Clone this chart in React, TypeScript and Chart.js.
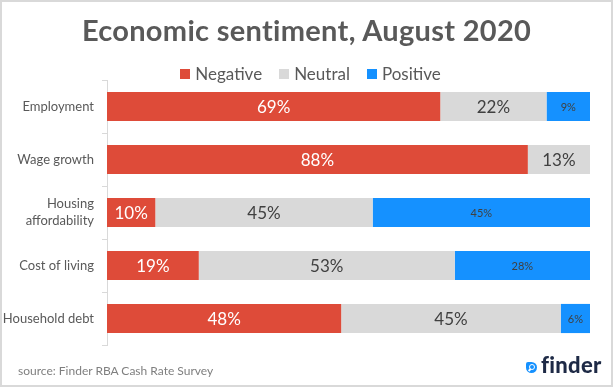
import React, { useEffect, useRef } from 'react';
import { Chart, registerables } from 'chart.js';

Chart.register(...registerables);

const categories: (string | string[])[] = [
  'Employment',
  'Wage growth',
  ['Housing', 'affordability'],
  'Cost of living',
  'Household debt',
];
const seriesNames = ['Negative', 'Neutral', 'Positive'];
const negative = [69, 88, 10, 19, 48];
const neutral = [22, 13, 45, 53, 45];
const positive = [9, 0, 45, 28, 6];
const seriesColors = ['#DE4B39', '#D9D9D9', '#1591FF'];

const rawSeries = [negative, neutral, positive];
const totals = categories.map((_, i) => negative[i] + neutral[i] + positive[i]);
const share = (arr: number[]) => arr.map((v, i) => (v / totals[i]) * 100);

const labelStyles = [
  { font: '17px Lato', color: '#FFFFFF' },
  { font: '17px Lato', color: '#404040' },
  { font: '11px Lato', color: '#404040' },
];

const barLabels = {
  id: 'barLabels',
  afterDatasetsDraw(chart: any) {
    const ctx = chart.ctx;
    chart.data.datasets.forEach((_ds: any, d: number) => {
      const meta = chart.getDatasetMeta(d);
      const raw = rawSeries[d];
      meta.data.forEach((el: any, i: number) => {
        if (!raw[i]) return;
        const { x, y, base } = el.getProps(['x', 'y', 'base'], true);
        ctx.save();
        ctx.font = labelStyles[d].font;
        ctx.fillStyle = labelStyles[d].color;
        ctx.textAlign = 'center';
        ctx.textBaseline = 'middle';
        ctx.fillText(raw[i] + '%', (x + base) / 2, y + 1);
        ctx.restore();
      });
    });
  },
};

export default function App() {
  const canvasRef = useRef<HTMLCanvasElement | null>(null);

  useEffect(() => {
    if (!canvasRef.current) return;
    const chart = new Chart(canvasRef.current, {
      type: 'bar',
      data: {
        labels: categories as any,
        datasets: seriesNames.map((name, d) => ({
          label: name,
          data: share(rawSeries[d]),
          backgroundColor: seriesColors[d],
          borderWidth: 0,
          categoryPercentage: 1,
          barPercentage: 0.55,
        })),
      },
      options: {
        indexAxis: 'y',
        animation: false,
        responsive: false,
        devicePixelRatio: 1,
        layout: { padding: { top: 80, right: 23, bottom: 42, left: 0 } },
        plugins: {
          legend: { display: false },
          title: { display: false },
          tooltip: { enabled: false },
        },
        scales: {
          x: { stacked: true, display: false, min: 0, max: 100 },
          y: {
            stacked: true,
            grid: {
              display: true,
              drawOnChartArea: false,
              drawTicks: true,
              tickLength: 5,
              color: '#D9D9D9',
              offset: true,
            },
            border: { display: true, color: '#D9D9D9' },
            ticks: {
              color: '#595959',
              font: { family: 'Lato', size: 13, lineHeight: 1.3 },
              padding: 8,
            },
            afterFit(scale: any) {
              scale.width = 107;
            },
          },
        },
      },
      plugins: [barLabels],
    });
    return () => chart.destroy();
  }, []);

  const legendItem = (name: string, color: string, last: boolean) => (
    <div key={name} style={{ display: 'flex', alignItems: 'center', marginRight: last ? 0 : 17 }}>
      <span style={{ width: 10, height: 10, background: color, marginRight: 5, display: 'inline-block' }} />
      <span>{name}</span>
    </div>
  );

  return (
    <div
      style={{
        position: 'fixed',
        left: 0,
        top: 0,
        width: 613,
        height: 387,
        background: '#FFFFFF',
        fontFamily: 'Lato, sans-serif',
        overflow: 'hidden',
      }}
    >
      <canvas ref={canvasRef} width={613} height={387} style={{ position: 'absolute', left: 0, top: 0, display: 'block' }} />
      <div
        style={{
          position: 'absolute',
          left: 0,
          top: 15,
          width: 613,
          textAlign: 'center',
          fontSize: 29,
          fontWeight: 700,
          lineHeight: '29px',
          letterSpacing: 0.3,
          color: '#595959',
        }}
      >
        Economic sentiment, August 2020
      </div>
      <div
        style={{
          position: 'absolute',
          left: 4,
          top: 63,
          width: 613,
          display: 'flex',
          justifyContent: 'center',
          fontSize: 17,
          lineHeight: '22px',
          color: '#595959',
        }}
      >
        {seriesNames.map((n, i) => legendItem(n, seriesColors[i], i === seriesNames.length - 1))}
      </div>
      <div
        style={{
          position: 'absolute',
          left: 18,
          top: 363,
          fontSize: 12,
          lineHeight: '16px',
          color: '#7F7F7F',
        }}
      >
        source: Finder RBA Cash Rate Survey
      </div>
      <div
        style={{
          position: 'absolute',
          left: 526,
          top: 362,
          width: 11,
          height: 11,
          background: '#1591FF',
          borderRadius: '2px 50% 50% 50%',
        }}
      >
        <div
          style={{
            position: 'absolute',
            left: 3,
            top: 2,
            width: 4,
            height: 4,
            border: '1px solid #FFFFFF',
            borderRadius: '50%',
          }}
        />
        <div
          style={{
            position: 'absolute',
            left: 2,
            top: 7,
            width: 3,
            height: 1.5,
            background: '#FFFFFF',
            transform: 'rotate(-45deg)',
          }}
        />
      </div>
      <div
        style={{
          position: 'absolute',
          left: 541,
          top: 354,
          fontSize: 22,
          fontWeight: 900,
          lineHeight: '22px',
          letterSpacing: 0.3,
          color: '#1E2A46',
        }}
      >
        finder
      </div>
      <div
        style={{
          position: 'absolute',
          left: 0,
          top: 0,
          width: 613,
          height: 387,
          boxSizing: 'border-box',
          border: '2px solid #D9D9D9',
          pointerEvents: 'none',
        }}
      />
    </div>
  );
}
